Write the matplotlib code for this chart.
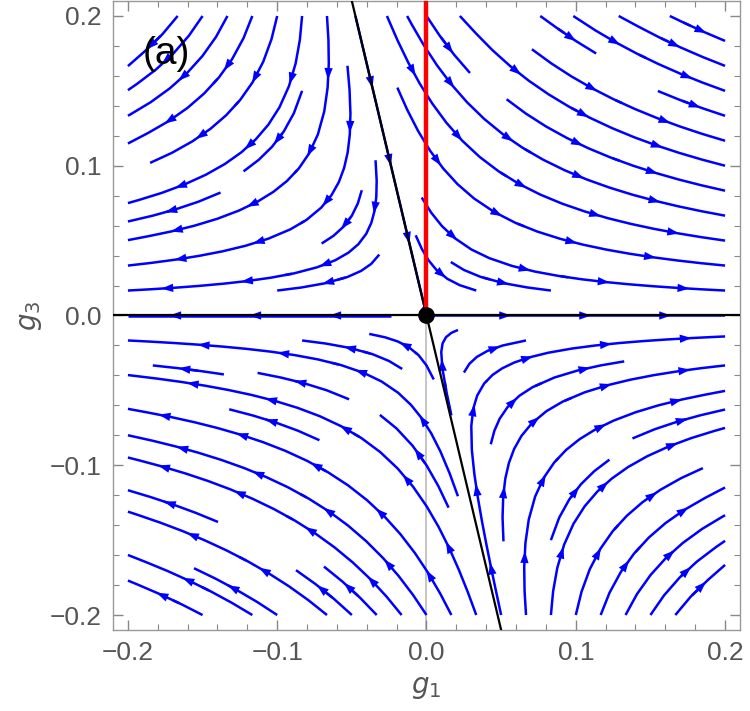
import numpy as np
import matplotlib
matplotlib.use("Agg")
import matplotlib.pyplot as plt
from matplotlib.ticker import MultipleLocator
from matplotlib.patches import FancyArrowPatch

# linearised flow around the fixed point at the origin
lam_unstable = 1.0      # eigenvalue along g3 = 0
lam_stable = -0.6       # eigenvalue along the separatrix
sep_slope = -4.2        # separatrix g3 = sep_slope * g1
xlim = (-0.21, 0.21)
ylim = (-0.21, 0.21)
xticks = [-0.2, -0.1, 0.0, 0.1, 0.2]
yticks = [-0.2, -0.1, 0.0, 0.1, 0.2]
panel_label = "(a)"

b = (lam_unstable - lam_stable) / (-sep_slope)

fig = plt.figure(figsize=(7.5, 7.11), dpi=100)
ax = fig.add_axes([113/750, 1 - 630/711, 627/750, 629/711])
ax.set_xlim(*xlim)
ax.set_ylim(*ylim)

g1 = np.linspace(-0.2, 0.2, 300)
g3 = np.linspace(-0.2, 0.2, 300)
G1, G3 = np.meshgrid(g1, g3)
U = lam_unstable * G1 + b * G3
V = lam_stable * G3

sp = ax.streamplot(G1, G3, U, V, density=0.86, color='#0000ff', linewidth=1.8,
                   arrowsize=1e-6, arrowstyle='-', broken_streamlines=True, zorder=2)

# group consecutive segments into streamlines, add several arrowheads per line
segs = sp.lines.get_segments()
lines = []
cur = None
for s in segs:
    s = np.asarray(s)
    if len(s) > 2:
        if cur is not None:
            lines.append(np.array(cur))
            cur = None
        lines.append(s)
        continue
    if cur is not None and np.allclose(cur[-1], s[0]):
        cur.append(s[1])
    else:
        if cur is not None:
            lines.append(np.array(cur))
        cur = [s[0], s[1]]
if cur is not None:
    lines.append(np.array(cur))

trans = ax.transData
inv = trans.inverted()
spacing_px = 80.0
for ln in lines:
    pix = trans.transform(ln)
    d = np.sqrt(((np.diff(pix, axis=0)) ** 2).sum(axis=1))
    cum = np.concatenate([[0], np.cumsum(d)])
    total = cum[-1]
    if total < 25:
        continue
    n = max(1, int(total // spacing_px))
    offs = (total - (n - 1) * spacing_px) / 2 + 10
    for k in range(n):
        sdist = offs + k * spacing_px
        if sdist > total - 1 or sdist < 12:
            continue
        xa = np.interp(sdist - 10, cum, pix[:, 0])
        ya = np.interp(sdist - 10, cum, pix[:, 1])
        xb = np.interp(sdist, cum, pix[:, 0])
        yb = np.interp(sdist, cum, pix[:, 1])
        p0 = inv.transform((xa, ya))
        p1 = inv.transform((xb, yb))
        ap = FancyArrowPatch(p0, p1, arrowstyle='-|>,head_length=0.85,head_width=0.3',
                             mutation_scale=10, color='#0000ff', lw=0,
                             shrinkA=0, shrinkB=0, zorder=2)
        ax.add_patch(ap)

gray = '#555555'
ax.plot([0, 0], [ylim[0], 0], color='#bbbbbb', lw=1.2, zorder=1)
ax.axhline(0, color='black', lw=1.6, zorder=3)
ax.plot([ylim[1]/sep_slope, ylim[0]/sep_slope], [ylim[1], ylim[0]], color='black', lw=1.6, zorder=3)
ax.plot([0, 0], [0, ylim[1]], color='#ff0000', lw=3.2, zorder=4)
ax.plot([0], [0], 'o', color='black', ms=11, zorder=5)

ax.set_xlim(*xlim)
ax.set_ylim(*ylim)
ax.set_xticks(xticks)
ax.set_yticks(yticks)
ax.set_xticklabels([f"{t:.1f}".replace('-', '\u2212') for t in xticks])
ax.set_yticklabels([f"{t:.1f}".replace('-', '\u2212') for t in yticks])
ax.xaxis.set_minor_locator(MultipleLocator(0.02))
ax.yaxis.set_minor_locator(MultipleLocator(0.02))
ax.tick_params(which='both', direction='in', top=True, right=True, color='#888888')
ax.tick_params(which='major', length=7, width=1, labelsize=19, labelcolor=gray, pad=8)
ax.tick_params(which='minor', length=4, width=0.8)
for lab in ax.get_xticklabels() + ax.get_yticklabels():
    lab.set_family('Liberation Sans')
for s in ax.spines.values():
    s.set_color('#999999')
    s.set_linewidth(1.0)

ax.set_xlabel(r'$g_1$', fontsize=20, color=gray, labelpad=6)
ax.set_ylabel(r'$g_3$', fontsize=20, color=gray, labelpad=4)
ax.text(0.085, 0.915, panel_label, transform=ax.transAxes, fontsize=28,
        family='Liberation Sans', ha='center', va='center', color='black', zorder=6)

fig.savefig('out.png', dpi=100)
